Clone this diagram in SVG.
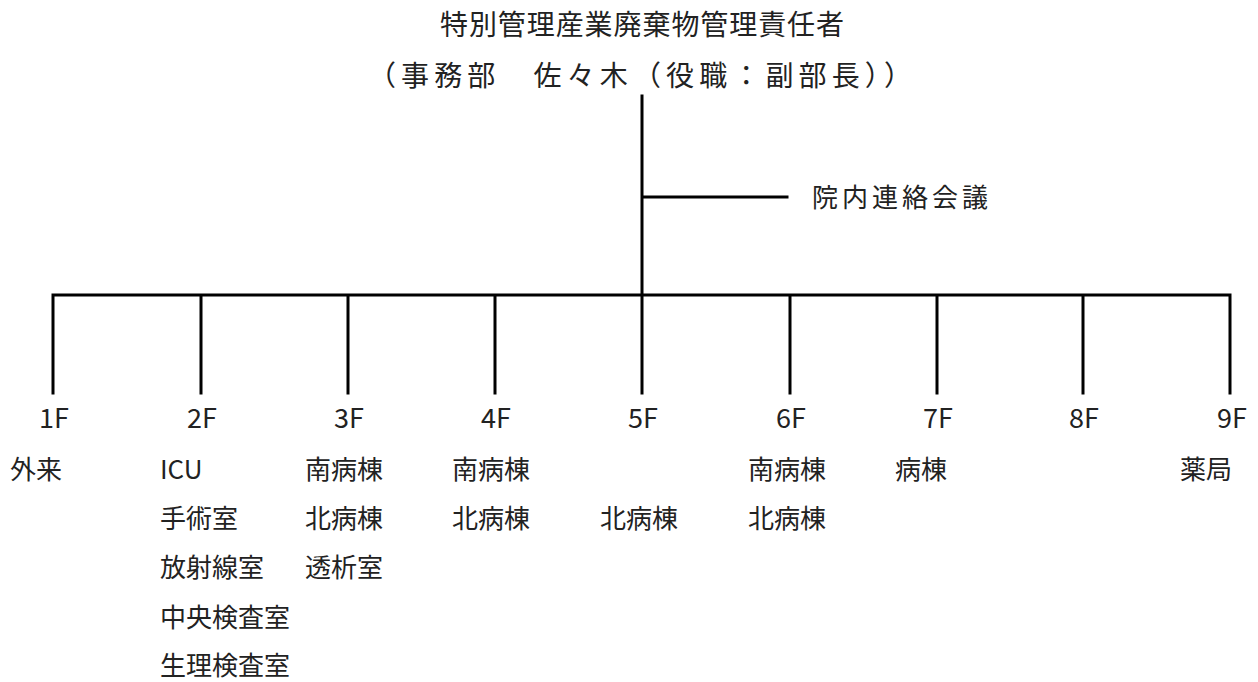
<svg xmlns="http://www.w3.org/2000/svg" width="1258" height="682" viewBox="0 0 1258 682">
<style>
text{font-family:"Noto Sans CJK JP","Noto Sans",sans-serif;fill:#222;}
.t{font-size:28px;text-anchor:middle;}
.f{font-size:27px;text-anchor:middle;}
.i{font-size:26px;}
.ln{stroke:#000;stroke-width:3;fill:none;stroke-linecap:square;}
</style>
<rect width="1258" height="682" fill="#fff"/>
<g id="connectors">
<path class="ln" d="M642 96V295M642 197H787M53 295H1230M53 295V393M201 295V393M348 295V393M495 295V393M642 295V393M790 295V393M937 295V393M1083 295V393M1230 295V393"/>
</g>
<g id="head">
<text class="t" x="642" y="35" textLength="404" lengthAdjust="spacing">特別管理産業廃棄物管理責任者</text>
<text class="t" x="640" y="86" textLength="544" lengthAdjust="spacing">（事務部　佐々木（役職：副部長））</text>
</g>
<g id="council"><text class="i" x="812" y="207" textLength="176" lengthAdjust="spacing">院内連絡会議</text></g>
<g id="f1"><text class="f" x="54" y="428">1F</text><text class="i" x="10" y="479">外来</text></g>
<g id="f2"><text class="f" x="202" y="428">2F</text>
<text class="i" x="160" y="479">ICU</text><text class="i" x="160" y="528">手術室</text><text class="i" x="160" y="577">放射線室</text><text class="i" x="160" y="627">中央検査室</text><text class="i" x="160" y="675">生理検査室</text></g>
<g id="f3"><text class="f" x="349" y="428">3F</text>
<text class="i" x="305" y="479">南病棟</text><text class="i" x="305" y="528">北病棟</text><text class="i" x="305" y="577">透析室</text></g>
<g id="f4"><text class="f" x="496" y="428">4F</text>
<text class="i" x="452" y="479">南病棟</text><text class="i" x="452" y="528">北病棟</text></g>
<g id="f5"><text class="f" x="643" y="428">5F</text>
<text class="i" x="600" y="528">北病棟</text></g>
<g id="f6"><text class="f" x="791" y="428">6F</text>
<text class="i" x="748" y="479">南病棟</text><text class="i" x="748" y="528">北病棟</text></g>
<g id="f7"><text class="f" x="938" y="428">7F</text>
<text class="i" x="895" y="479">病棟</text></g>
<g id="f8"><text class="f" x="1084" y="428">8F</text></g>
<g id="f9"><text class="f" x="1232" y="428">9F</text>
<text class="i" x="1180" y="479">薬局</text></g>
</svg>
